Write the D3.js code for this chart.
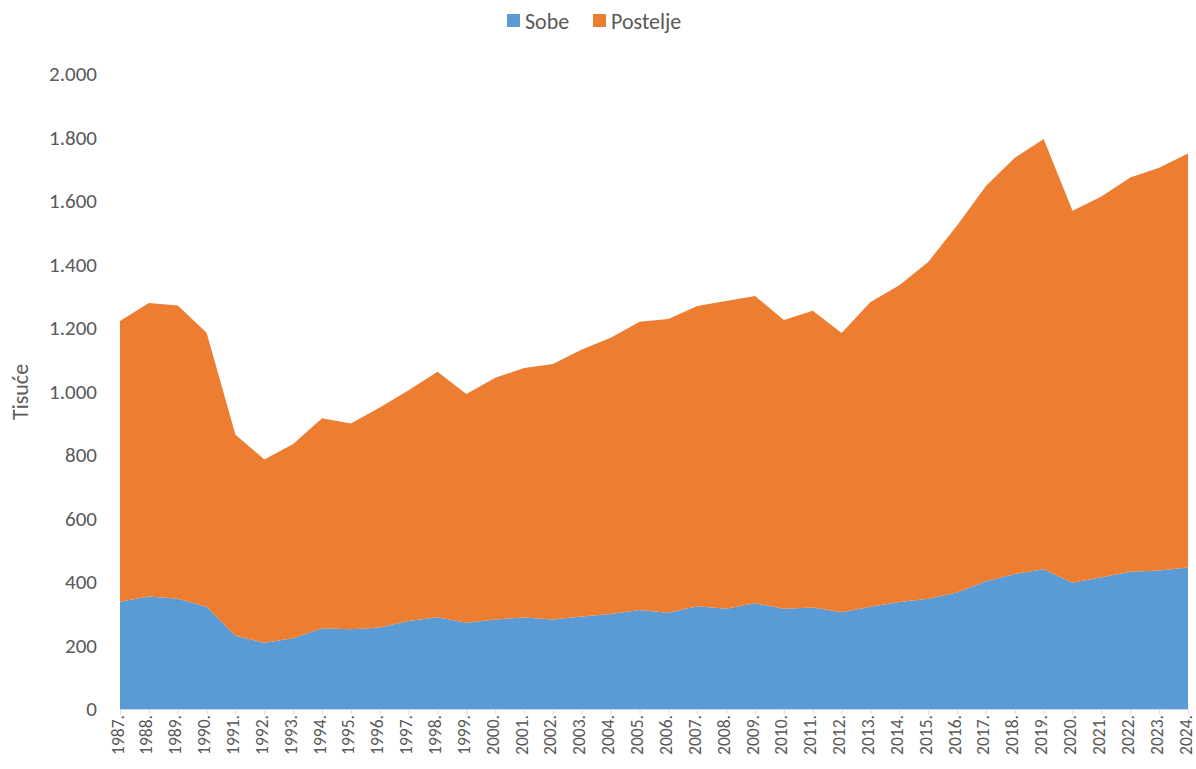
<!DOCTYPE html>
<html><head><meta charset="utf-8">
<script src="https://cdn.jsdelivr.net/npm/d3@7"></script>
<style>body{margin:0;background:#fff;} text{font-family:Carlito,Lato,sans-serif;}</style>
</head><body>
<svg id="c" width="1196" height="769"></svg>
<script>
const years = ["1987.","1988.","1989.","1990.","1991.","1992.","1993.","1994.","1995.","1996.","1997.","1998.","1999.","2000.","2001.","2002.","2003.","2004.","2005.","2006.","2007.","2008.","2009.","2010.","2011.","2012.","2013.","2014.","2015.","2016.","2017.","2018.","2019.","2020.","2021.","2022.","2023.","2024."];
const sobe = [338,354,347,322,231,209,223,254,251,257,277,289,272,282,288,282,291,299,312,303,324,316,333,316,320,305,322,337,347,367,402,425,440,398,415,432,436,446];
const postelje = [884,925,924,863,633,577,612,662,648,693,727,773,720,761,786,805,841,870,908,925,945,969,968,909,934,879,960,998,1061,1156,1245,1311,1355,1171,1199,1242,1269,1304];
const yTicks = [0,200,400,600,800,1000,1200,1400,1600,1800,2000];
const seriesNames = ["Sobe","Postelje"];
const colors = ["#5B9BD5","#ED7D31"];

const svg = d3.select("#c");
const L=120, R=1188, T=74, B=709;
const x = d3.scalePoint().domain(years).range([L,R]);
const y = d3.scaleLinear().domain([0,2000]).range([B,T]);
const fmt = v => d3.format(",")(v).replace(/,/g,".");

const table = years.map((yr,i)=>({year:yr, Sobe:sobe[i], Postelje:postelje[i]}));
const stack = d3.stack().keys(seriesNames)(table);
const area = d3.area().x(d=>x(d.data.year)).y0(d=>y(d[0])).y1(d=>y(d[1]));
svg.selectAll("path.a").data(stack).join("path").attr("class","a")
  .attr("d",area).attr("fill",(d,i)=>colors[i]);

// y axis labels
svg.selectAll("text.yt").data(yTicks).join("text").attr("class","yt")
  .attr("x",97).attr("y",d=>y(d)).attr("dy","0.35em").attr("text-anchor","end")
  .attr("font-size",21).attr("fill","#595959").text(fmt);

// x axis
const xa = svg.append("g").attr("transform",`translate(0,${B})`)
  .call(d3.axisBottom(x).tickSize(5).tickSizeOuter(0).tickFormat(""));
xa.select(".domain").attr("stroke","#d9d9d9");
xa.selectAll(".tick line").attr("stroke","#d9d9d9");
svg.selectAll("text.xt").data(years).join("text").attr("class","xt")
  .attr("transform",d=>`translate(${x(d)},715) rotate(-90)`)
  .attr("dy","0.2em").attr("text-anchor","end")
  .attr("font-size",17.5).attr("fill","#595959").text(d=>d);

// y title
svg.append("text").attr("transform","translate(20,392) rotate(-90)")
  .attr("text-anchor","middle").attr("dy","0.35em").attr("font-size",22).attr("fill","#595959").text("Tisuće");

// legend
const lg = svg.append("g");
const items = [{n:"Sobe",x:507},{n:"Postelje",x:593}];
items.forEach((it,i)=>{
  lg.append("rect").attr("x",it.x).attr("y",14).attr("width",13).attr("height",13).attr("fill",colors[i]);
  lg.append("text").attr("x",it.x+18).attr("y",21).attr("dy","0.35em").attr("font-size",22).attr("fill","#595959").text(it.n);
});
</script>
</body></html>
